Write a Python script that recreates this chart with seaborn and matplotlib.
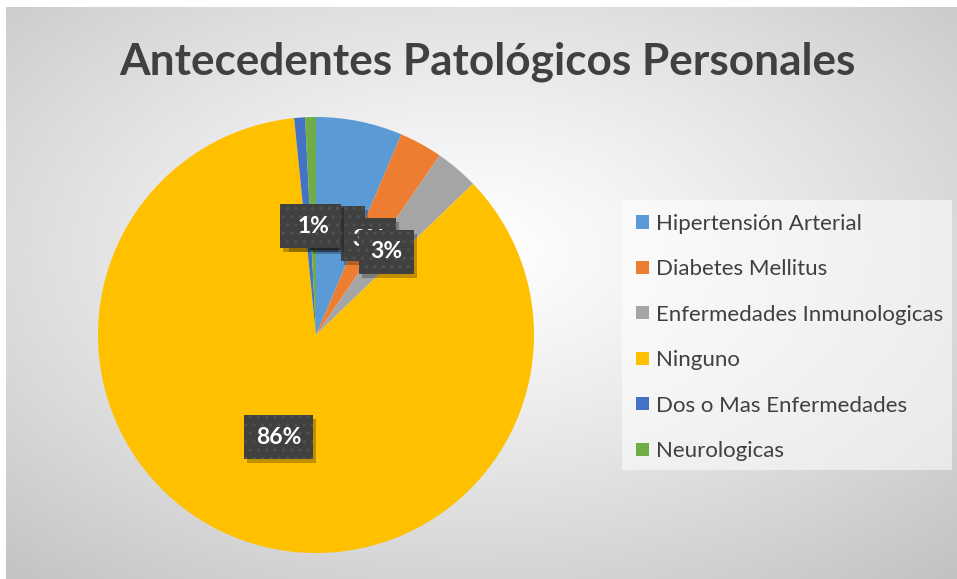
import numpy as np
import pandas as pd
import seaborn as sns
import matplotlib
matplotlib.use("Agg")
import matplotlib.pyplot as plt
from matplotlib.patches import Rectangle
from matplotlib.transforms import offset_copy

# ---- data ----
title = "Antecedentes Patológicos Personales"
categories = ["Hipertensión Arterial", "Diabetes Mellitus", "Enfermedades Inmunologicas",
              "Ninguno", "Dos o Mas Enfermedades", "Neurologicas"]
counts = [8, 4, 4, 107, 1, 1]
colors = ["#5B9BD5", "#ED7D31", "#A5A5A5", "#FFC000", "#4472C4", "#70AD47"]

df = pd.DataFrame({"categoria": categories, "n": counts, "color": colors})

sns.set_theme(style="white")
plt.rcParams["font.family"] = ["Lato", "DejaVu Sans"]

W, H = 957, 579
fig = plt.figure(figsize=(W / 100, H / 100), dpi=100)
fig.patch.set_facecolor("white")

# ---- background radial gradient ----
bg = fig.add_axes([0, 0, 1, 1], zorder=-10)
bg.set_axis_off()
yy, xx = np.mgrid[0:H, 0:W]
cx, cy = 470, 250
d = np.sqrt(((xx - cx) / W) ** 2 + ((yy - cy) / H) ** 2)
d = d / d.max()
val = 1.0 - 0.24 * d ** 1.2
img = np.dstack([val] * 3)
img[:7, :] = 1.0
img[:, :6] = 1.0
bg.imshow(img, extent=[0, 1, 0, 1], aspect="auto", interpolation="bilinear")
bg.set_xlim(0, 1)
bg.set_ylim(0, 1)

renderer = fig.canvas.get_renderer()

def fit_width(t, target):
    w = t.get_window_extent(renderer).width
    t.set_fontsize(t.get_fontsize() * target / w)

# ---- title ----
tt = fig.text(487.5 / W, 1 - 75 / H, title, ha="center", va="baseline",
              fontsize=30, fontweight="bold", color="#404040")
fit_width(tt, 735)

# ---- pie ----
pcx, pcy, pr = 316, 335, 218
ax = fig.add_axes([(pcx - pr) / W, (H - pcy - pr) / H, 2 * pr / W, 2 * pr / H])
wedges, texts, autotexts = ax.pie(
    df["n"], colors=df["color"], startangle=90, counterclock=False,
    autopct="%1.0f%%", pctdistance=0.5, radius=1,
    wedgeprops=dict(linewidth=0))
ax.set_xlim(-1, 1)
ax.set_ylim(-1, 1)
ax.set_aspect("equal")

lab_fs = 16.5
for i, t in enumerate(autotexts):
    x, y = t.get_position()
    t.set_color("white")
    t.set_fontsize(lab_fs)
    t.set_fontweight("bold")
    t.set_zorder(20 + 2 * i)
    t.set_bbox(dict(boxstyle="square,pad=0.5", facecolor="#404040",
                    edgecolor="#525252", hatch="..", linewidth=0))
    ax.text(x, y, t.get_text(), ha="center", va="center", fontsize=lab_fs,
            fontweight="bold", color=(0, 0, 0, 0), zorder=19 + 2 * i,
            transform=offset_copy(ax.transData, fig=fig, x=3, y=-4, units="dots"),
            bbox=dict(boxstyle="square,pad=0.5", facecolor="black",
                      alpha=0.25, edgecolor="none"))

# ---- legend ----
fig.patches.append(Rectangle((622 / W, 1 - 470 / H), 330 / W, 270 / H,
                             transform=fig.transFigure, facecolor="white",
                             alpha=0.55, edgecolor="none", zorder=1))
row0, step = 222, 45.4
legend_texts = []
for i, (lab, col) in enumerate(zip(df["categoria"], df["color"])):
    yc = row0 + i * step
    fig.patches.append(Rectangle((636 / W, 1 - (yc + 6.5) / H), 13 / W, 13 / H,
                                 transform=fig.transFigure, facecolor=col,
                                 edgecolor="none", zorder=2))
    lt = fig.text(656 / W, 1 - yc / H, lab, ha="left", va="center_baseline",
                  fontsize=14, color="#404040", zorder=3)
    legend_texts.append(lt)
ref = legend_texts[2]
w = ref.get_window_extent(renderer).width
fs = ref.get_fontsize() * 287 / w
for lt in legend_texts:
    lt.set_fontsize(fs)

fig.savefig("out.png", dpi=100)
